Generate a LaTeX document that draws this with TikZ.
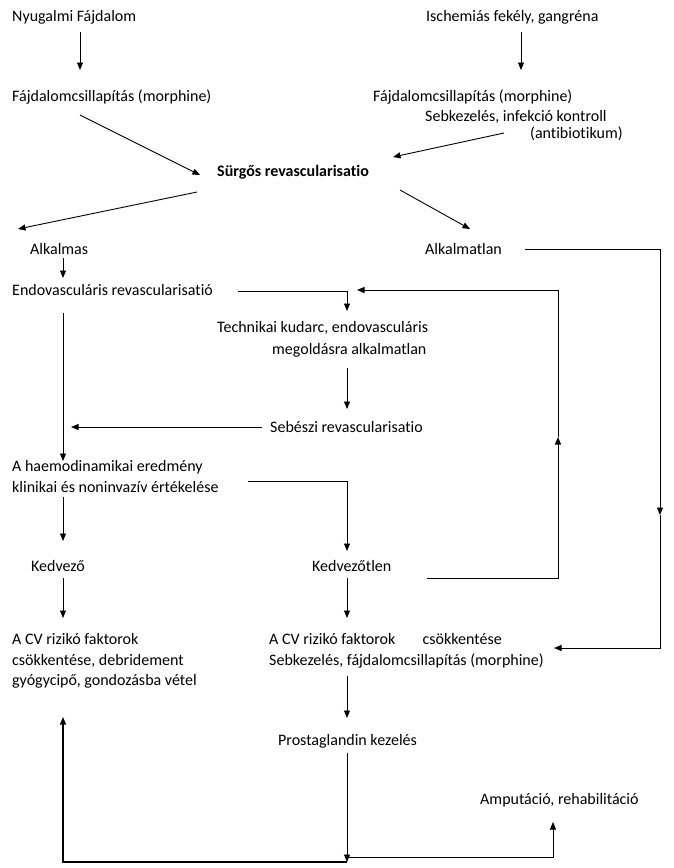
\documentclass[tikz,border=0pt]{standalone}
\usepackage{fontspec}
\setmainfont[RawFeature={-liga}]{Carlito}
\usetikzlibrary{arrows.meta}
\begin{document}
\begin{tikzpicture}[x=1pt,y=-1pt,
  lbl/.style={anchor=west,inner sep=0pt,font=\fontsize{16}{20.5}\selectfont,align=left},
  arr/.style={-{Triangle[width=6pt,length=7.5pt]},line width=0.9pt},
  ln/.style={line width=0.9pt}]
\useasboundingbox[fill=white] (0,0) rectangle (674,868);
% texts
\node[lbl] (nyu) at (12,17) {Nyugalmi Fájdalom};
\node[lbl] (faj1) at (12,97) {Fájdalomcsillapítás (morphine)};
\node[lbl,font=\fontsize{16}{20.5}\selectfont\bfseries] (surg) at (217,172) {Sürgős revascularisatio};
\node[lbl] (isch) at (426,17) {Ischemiás fekély, gangréna};
\node[lbl] (faj2) at (373,97) {Fájdalomcsillapítás (morphine)};
\node[lbl] (seb1) at (425,117) {Sebkezelés, infekció kontroll};
\node[lbl] (anti) at (530,134) {(antibiotikum)};
\node[lbl] (alk) at (30,249) {Alkalmas};
\node[lbl] (alkn) at (425,249) {Alkalmatlan};
\node[lbl] (endo) at (12,290) {Endovasculáris revascularisatió};
\node[lbl] (tech1) at (217,328) {Technikai kudarc, endovasculáris};
\node[lbl] (tech2) at (272,350) {megoldásra alkalmatlan};
\node[lbl] (sebr) at (270,427) {Sebészi revascularisatio};
\node[lbl] (haem) at (12,476.5) {A haemodinamikai eredmény\\klinikai és noninvazív értékelése};
\node[lbl] (kedv) at (31,566) {Kedvező};
\node[lbl] (kedvt) at (312,566) {Kedvezőtlen};
\node[lbl] (cvl) at (12,661) {A CV rizikó faktorok\\csökkentése, debridement\\gyógycipő, gondozásba vétel};
\node[lbl] (cvr) at (269,651) {A CV rizikó faktorok\hspace{1.7em}csökkentése\\Sebkezelés, fájdalomcsillapítás (morphine)};
\node[lbl] (prost) at (278,741) {Prostaglandin kezelés};
\node[lbl] (amp) at (480,800) {Amputáció, rehabilitáció};
% helper coordinates
\coordinate (ret) at (558,437);
\coordinate (side) at (660,515);
\coordinate (bot) at (347,862);
% connectors
\draw[arr] (nyu.south -| 80,0) ++(0,8) -- (80,70);
\draw[arr] (isch.south -| 521,0) ++(0,8) -- (521,70);
\draw[arr] (80,115) -- (200,175);
\draw[arr] (504,133) -- (393,157);
\draw[arr] (197,192) -- (18,229);
\draw[arr] (400,190) -- (470,229);
\draw[arr] (63,258) -- (63,278);
\draw[arr] (238,291) -| (347,311);
\draw[arr] (347,368) -- (347,409);
\draw[arr] (262,427) -- (71,427);
\draw[arr] (63,313) -- (63,461);
\draw[arr] (427,578) -| (ret);
\draw[arr] (ret) |- (357,290);
\draw[arr] (525,249) -| (side);
\draw[arr] (side) |- (554,648);
\draw[arr] (248,481) -| (347,551);
\draw[arr] (63,497) -- (63,541);
\draw[arr] (63,578) -- (63,618);
\draw[arr] (347,578) -- (347,618);
\draw[arr] (347,676) -- (347,718);
\draw[arr] (347,753) -- (bot);
\draw[arr,line width=1.2pt] (bot) -| (63,717);
\draw[arr] (348,857) -| (553,822);
\end{tikzpicture}
\end{document}
